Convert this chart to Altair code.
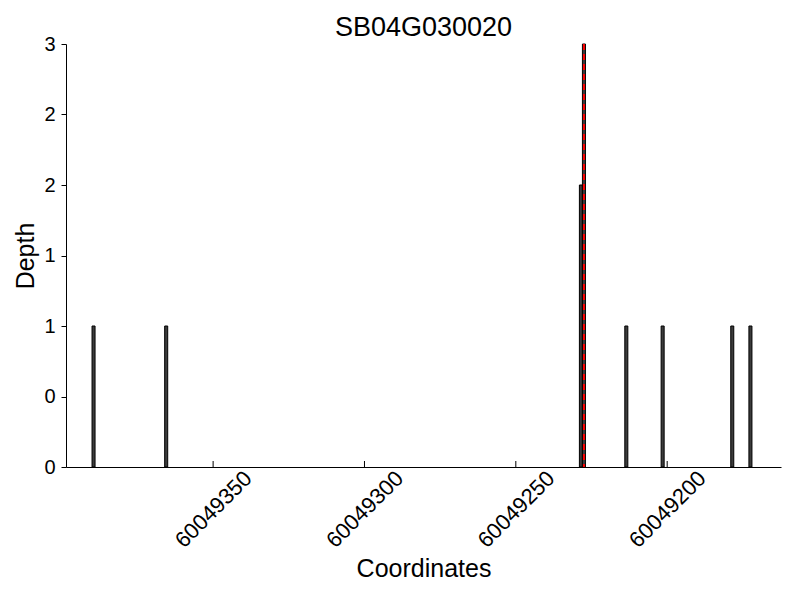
import altair as alt
import pandas as pd

# Data
positions = [60049389, 60049365, 60049228, 60049227, 60049213, 60049201, 60049178, 60049172]
depths = [1, 1, 2, 3, 1, 1, 1, 1]
marker_position = [60049227.5]
x_ticks = [60049200, 60049250, 60049300, 60049350]
y_ticks = [0, 0.5, 1, 1.5, 2, 2.5, 3]
x_domain = [60049162.4, 60049398.6]
title_text = ["SB04G030020"]

FONT = "Liberation Sans"
W, H = 715, 423

bars = pd.DataFrame({"pos": positions, "depth": depths})
marker = pd.DataFrame({"pos": marker_position})
ticks = pd.DataFrame({"pos": x_ticks})
titles = pd.DataFrame({"label": title_text})

x_scale = alt.Scale(domain=x_domain, reverse=True, nice=False, zero=False)
y_scale = alt.Scale(domain=[0, 3], nice=False)

bar_layer = alt.Chart(bars).transform_calculate(
    end="datum.pos + 1", base="0"
).mark_bar(fill="#3c3c3c", stroke="black", strokeWidth=1).encode(
    x=alt.X("pos:Q", scale=x_scale,
            axis=alt.Axis(values=x_ticks, format="d", grid=False, ticks=False, tickSize=0,
                          labelAngle=315, labelAlign="center", labelBaseline="middle",
                          labelPadding=42, labelFontSize=22, labelFont=FONT, labelColor="black",
                          domainColor="black", domainWidth=1,
                          title="Coordinates", titleFont=FONT, titleFontSize=25,
                          titleFontWeight="normal", titleColor="black",
                          titleBaseline="alphabetic", titleY=109, titleX=W / 2)),
    x2="end:Q",
    y=alt.Y("depth:Q", scale=y_scale,
            axis=alt.Axis(values=y_ticks, labelExpr="floor(datum.value)", grid=False,
                          tickSize=5, tickColor="black", labelPadding=6,
                          labelFontSize=20, labelFont=FONT, labelColor="black",
                          domainColor="black", domainWidth=1,
                          title="Depth", titleFont=FONT, titleFontSize=25,
                          titleFontWeight="normal", titleColor="black",
                          titleBaseline="alphabetic", titleX=-33, titleY=H / 2, titleAngle=270)),
    y2="base:Q",
)

tick_layer = alt.Chart(ticks).mark_rule(color="black", strokeWidth=1).encode(
    x=alt.X("pos:Q", scale=x_scale),
    y=alt.value(H),
    y2=alt.value(H - 6),
)

marker_layer = alt.Chart(marker).mark_rule(color="red", strokeWidth=2, strokeDash=[6, 4]).encode(
    x=alt.X("pos:Q", scale=x_scale),
    y=alt.value(0),
    y2=alt.value(H),
)

title_layer = alt.Chart(titles).mark_text(
    font=FONT, fontSize=27, color="black", align="center", baseline="alphabetic"
).encode(
    text="label:N",
    x=alt.value(W / 2),
    y=alt.value(-8),
)

chart = alt.layer(bar_layer, tick_layer, marker_layer, title_layer).properties(
    width=W,
    height=H,
    background="white",
    autosize=alt.AutoSizeParams(type="none"),
    padding={"left": 58, "top": 36, "right": 10, "bottom": 120},
).configure_view(stroke=None)

chart.save("out.html", embed_options={"renderer": "svg", "actions": False})
